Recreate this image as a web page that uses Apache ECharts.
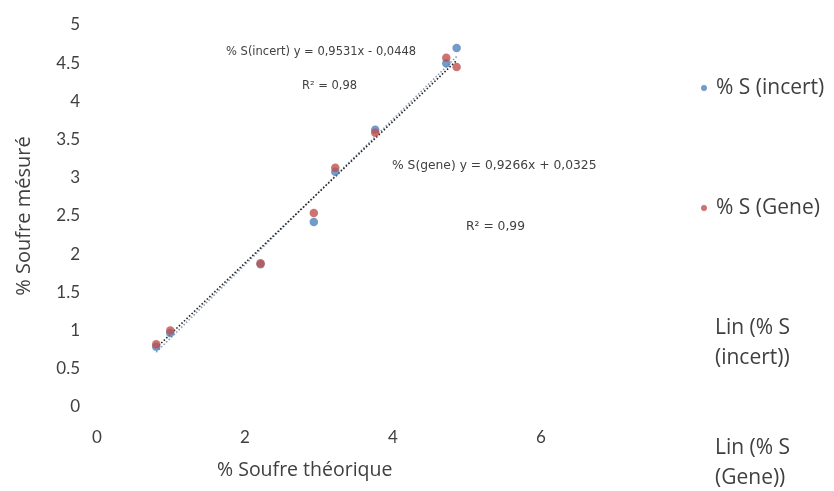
<!DOCTYPE html>
<html>
<head>
<meta charset="utf-8">
<script src="https://cdn.jsdelivr.net/npm/echarts@6/dist/echarts.min.js"></script>
<style>
  html, body { margin: 0; padding: 0; background: #fff; }
  #chart { width: 834px; height: 491px; }
</style>
</head>
<body>
<div id="chart"></div>
<script>
// Theoretical sulphur content (x) shared by both measurement series
var soufreTheorique = [0.80, 0.99, 2.21, 2.93, 3.22, 3.76, 4.72, 4.86];
// Measured sulphur, uncertainty method
var soufreIncert = [0.79, 0.97, 1.87, 2.42, 3.08, 3.63, 4.50, 4.70];
// Measured sulphur, Gene method
var soufreGene = [0.82, 1.00, 1.88, 2.54, 3.13, 3.59, 4.57, 4.45];

// Linear fits (slope, intercept, R²)
var fitIncert = { slope: 0.9531, intercept: -0.0448, r2: '0,98' };
var fitGene = { slope: 0.9266, intercept: 0.0325, r2: '0,99' };

var yTicks = [0, 0.5, 1, 1.5, 2, 2.5, 3, 3.5, 4, 4.5, 5];
var xTicks = [0, 2, 4, 6];

var FONT = 'Lato, "Liberation Sans", sans-serif';
var WIDE = '"Open Sans", "Noto Sans", sans-serif';
var SMALL = '"DejaVu Sans", sans-serif';
var TXT = '#404040';

function pairs(xs, ys) {
  return xs.map(function (x, i) { return [x, ys[i]]; });
}
function fitLine(fit) {
  var lo = Math.min.apply(null, soufreTheorique);
  var hi = Math.max.apply(null, soufreTheorique);
  return [lo, hi].map(function (x) { return [x, fit.slope * x + fit.intercept]; });
}
function fmt(v) { return String(Math.abs(v)).replace('.', ','); }

var eqIncert = '% S(incert) y = ' + fmt(fitIncert.slope) + 'x ' +
  (fitIncert.intercept < 0 ? '- ' : '+ ') + fmt(fitIncert.intercept.toFixed(4));
var eqGene = '% S(gene) y = ' + fmt(fitGene.slope) + 'x ' +
  (fitGene.intercept < 0 ? '- ' : '+ ') + fmt(fitGene.intercept.toFixed(4));

var chart = echarts.init(document.getElementById('chart'));

function legendBox(name, left, top, hidden) {
  var item = { name: name };
  if (hidden) {
    item.itemStyle = { opacity: 0 };
    item.lineStyle = { opacity: 0 };
  }
  return {
    orient: 'vertical',
    left: left,
    top: top,
    itemWidth: 14,
    itemHeight: 6,
    selectedMode: false,
    data: [item],
    textStyle: { color: TXT, fontSize: 21, fontFamily: WIDE, lineHeight: 30 }
  };
}

chart.setOption({
  animation: false,
  backgroundColor: '#ffffff',
  grid: { left: 97, top: 25, width: 592, height: 382 },
  xAxis: {
    type: 'value',
    min: 0,
    max: 8,
    interval: 2,
    axisLine: { show: false },
    axisTick: { show: false },
    splitLine: { show: false },
    axisLabel: {
      color: TXT, fontSize: 17, fontFamily: FONT, margin: 22,
      formatter: function (v) { return xTicks.indexOf(v) >= 0 ? String(v) : ''; }
    }
  },
  yAxis: {
    type: 'value',
    min: 0,
    max: 5,
    interval: 0.5,
    name: '% Soufre mésuré',
    nameLocation: 'middle',
    nameGap: 63,
    nameTextStyle: { color: TXT, fontSize: 20, fontFamily: WIDE },
    axisLine: { show: false },
    axisTick: { show: false },
    splitLine: { show: false },
    axisLabel: {
      color: TXT, fontSize: 17, fontFamily: FONT, margin: 17,
      formatter: function (v) { return yTicks.indexOf(v) >= 0 ? String(v) : ''; }
    }
  },
  legend: [
    legendBox('% S (incert)', 696, 68),
    legendBox('% S (Gene)', 696, 188),
    legendBox('Lin (% S\n(incert))', 690, 308, true),
    legendBox('Lin (% S\n(Gene))', 690, 428, true)
  ],
  graphic: [
    { type: 'text', left: 217, top: 460,
      style: { text: '% Soufre théorique', fill: TXT, fontSize: 19.5, fontFamily: WIDE } },
    { type: 'text', left: 226, top: 46,
      style: { text: eqIncert, fill: TXT, fontSize: 11.5, fontFamily: SMALL } },
    { type: 'text', left: 302, top: 80,
      style: { text: 'R² = ' + fitIncert.r2, fill: TXT, fontSize: 11.5, fontFamily: SMALL } },
    { type: 'text', left: 392, top: 160,
      style: { text: eqGene, fill: TXT, fontSize: 12.3, fontFamily: SMALL } },
    { type: 'text', left: 466, top: 221,
      style: { text: 'R² = ' + fitGene.r2, fill: TXT, fontSize: 12.3, fontFamily: SMALL } }
  ],
  series: [
    {
      name: 'Lin (% S\n(incert))',
      type: 'line',
      data: fitLine(fitIncert),
      symbol: 'none',
      lineStyle: { color: '#8a9ab0', width: 1.6, type: [1.5, 2] },
      z: 1
    },
    {
      name: 'Lin (% S\n(Gene))',
      type: 'line',
      data: fitLine(fitGene),
      symbol: 'none',
      lineStyle: { color: '#222222', width: 1.6, type: [1.5, 2] },
      z: 1
    },
    {
      name: '% S (incert)',
      type: 'scatter',
      data: pairs(soufreTheorique, soufreIncert),
      symbolSize: 8.5,
      itemStyle: { color: '#4f81bd' },
      z: 3
    },
    {
      name: '% S (Gene)',
      type: 'scatter',
      data: pairs(soufreTheorique, soufreGene),
      symbolSize: 8.5,
      itemStyle: { color: '#c0504d' },
      z: 4
    }
  ]
});
</script>
</body>
</html>
